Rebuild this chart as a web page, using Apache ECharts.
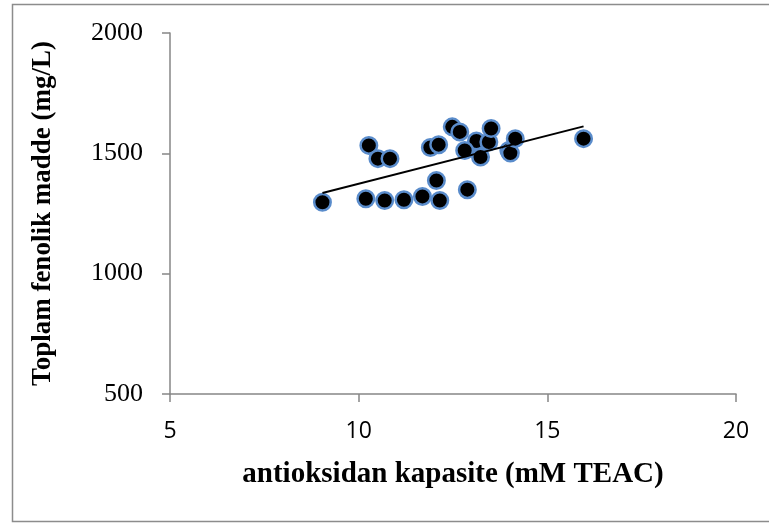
<!DOCTYPE html>
<html>
<head>
<meta charset="utf-8">
<style>
  html, body { margin: 0; padding: 0; background: #ffffff; }
  #chart { width: 769px; height: 524px; }
</style>
<script src="https://cdn.jsdelivr.net/npm/echarts@6/dist/echarts.min.js"></script>
</head>
<body>
<div id="chart"></div>
<script>
// Antioxidant capacity (mM TEAC) vs total phenolic content (mg/L)
const teac = [9.04, 10.19, 10.69, 11.20, 11.69, 12.15, 12.06, 12.88,
              10.27, 10.51, 10.83, 11.90, 12.12, 12.48, 12.68, 13.12,
              12.81, 13.23, 13.45, 13.51, 13.98, 14.02, 14.15, 15.96];
const phenolic = [1297, 1311, 1304, 1307, 1321, 1304, 1387, 1349,
                  1533, 1478, 1478, 1524, 1536, 1610, 1589, 1551,
                  1512, 1485, 1547, 1603, 1512, 1501, 1561, 1561];
const xTicks = [5, 10, 15, 20];
const yTicks = [500, 1000, 1500, 2000];

const points = teac.map((x, i) => [x, phenolic[i]]);

// Least-squares trend line across the range of the data
function linearFit(xs, ys) {
  const n = xs.length;
  let sx = 0, sy = 0, sxx = 0, sxy = 0;
  for (let i = 0; i < n; i++) {
    sx += xs[i]; sy += ys[i];
    sxx += xs[i] * xs[i]; sxy += xs[i] * ys[i];
  }
  const slope = (n * sxy - sx * sy) / (n * sxx - sx * sx);
  const intercept = (sy - slope * sx) / n;
  return { slope, intercept };
}
const fit = linearFit(teac, phenolic);
const xMin = Math.min(...teac), xMax = Math.max(...teac);
const trend = [[xMin, fit.intercept + fit.slope * xMin],
               [xMax, fit.intercept + fit.slope * xMax]];

const chart = echarts.init(document.getElementById('chart'), null, { renderer: 'canvas' });
const axisGrey = '#868686';
chart.setOption({
  animation: false,
  backgroundColor: '#ffffff',
  graphic: [{
    type: 'rect',
    shape: { x: 12.5, y: 4.5, width: 780, height: 517 },
    style: { fill: 'none', stroke: '#8c8c8c', lineWidth: 1.5 },
    silent: true
  }],
  grid: { left: 170, right: 33, top: 33, bottom: 130, containLabel: false },
  xAxis: {
    type: 'value',
    min: xTicks[0], max: xTicks[xTicks.length - 1], interval: 5,
    name: 'antioksidan kapasite (mM TEAC)',
    nameLocation: 'middle', nameGap: 66,
    nameTextStyle: { fontFamily: 'Liberation Serif', fontWeight: 'bold', fontSize: 29, color: '#000' },
    axisLine: { show: true, onZero: false, lineStyle: { color: axisGrey, width: 1.5 } },
    axisTick: { show: true, length: 8, lineStyle: { color: axisGrey, width: 1.5 } },
    axisLabel: { margin: 26, fontFamily: 'Open Sans', fontSize: 23, color: '#000' },
    splitLine: { show: false }
  },
  yAxis: {
    type: 'value',
    min: yTicks[0], max: yTicks[yTicks.length - 1], interval: 500,
    name: 'Toplam fenolik madde (mg/L)',
    nameLocation: 'middle', nameGap: 113,
    nameTextStyle: { fontFamily: 'Liberation Serif', fontWeight: 'bold', fontSize: 27, color: '#000' },
    axisLine: { show: true, onZero: false, lineStyle: { color: axisGrey, width: 1.5 } },
    axisTick: { show: true, length: 8, lineStyle: { color: axisGrey, width: 1.5 } },
    axisLabel: {
      margin: 27, fontFamily: 'Liberation Serif', fontSize: 26, color: '#000',
      formatter: (v) => String(v)
    },
    splitLine: { show: false }
  },
  series: [
    {
      type: 'line',
      data: trend,
      showSymbol: false,
      symbol: 'none',
      lineStyle: { color: '#000', width: 2 },
      z: 3,
      silent: true
    },
    {
      type: 'scatter',
      data: points,
      symbol: 'circle',
      symbolSize: 16.5,
      itemStyle: { color: '#000', opacity: 1, borderColor: '#5a8ccb', borderWidth: 2.5 },
      z: 2
    }
  ]
});
</script>
</body>
</html>
